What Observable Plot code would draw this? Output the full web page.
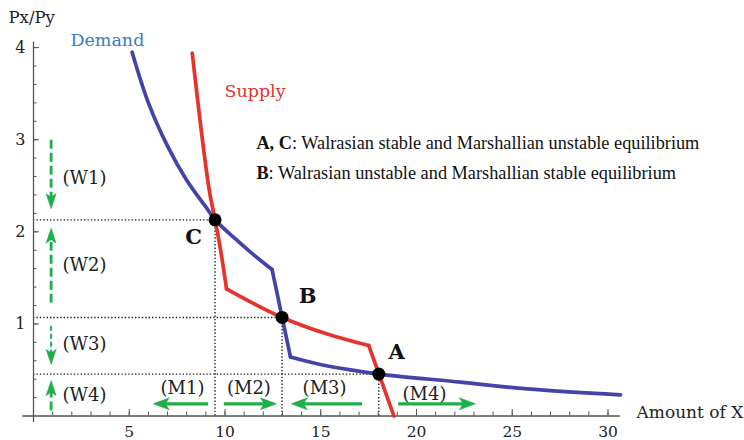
<!DOCTYPE html>
<html><head><meta charset="utf-8">
<script src="https://cdn.jsdelivr.net/npm/d3@7"></script>
<script src="https://cdn.jsdelivr.net/npm/@observablehq/plot@0.6"></script>
<style>body{margin:0;background:#fff}</style>
</head><body><div id="chart"></div>
<script>
// ---- data ----
const demandUpperX = [5.15, 6, 7, 8, 9, 9.48, 10.5, 11.5, 12.46];
const demandUpperY = [3.95, 3.40, 2.93, 2.56, 2.27, 2.13, 1.93, 1.75, 1.59];
const demandMidX = [12.46, 13.42];
const demandMidY = [1.59, 0.64];
const demandLowerX = [13.42, 14.81, 16.55, 18.03, 22.3, 25.78, 30.65];
const demandLowerY = [0.64, 0.567, 0.50, 0.455, 0.367, 0.295, 0.23];

const supplyUpperX = [8.29, 8.72, 9.18, 9.48, 9.77, 10.08];
const supplyUpperY = [3.94, 3.17, 2.45, 2.13, 1.80, 1.38];
const supplyMidX = [10.08, 11.5, 12.98, 15.34, 17.51];
const supplyMidY = [1.38, 1.22, 1.07, 0.89, 0.765];
const supplyLowerX = [17.51, 18.82];
const supplyLowerY = [0.765, 0];

const eqNames = ["C", "B", "A"];
const eqX = [9.48, 12.98, 18.03];
const eqY = [2.13, 1.07, 0.455];
const eqLabelX = [8.36, 14.31, 18.96];
const eqLabelY = [1.94, 1.30, 0.69];

const xTickValues = [5, 10, 15, 20, 25, 30];
const yTickValues = [1, 2, 3, 4];

const wLabels = ["(W1)", "(W2)", "(W3)", "(W4)"];
const wLabelY = [2.58, 1.634, 0.776, 0.222];
const wArrowFrom = [3.0, 1.23, 0.98, 0.06];
const wArrowTo = [2.25, 2.04, 0.56, 0.385];
const wArrowX = 0.92;

const mLabels = ["(M1)", "(M2)", "(M3)", "(M4)"];
const mLabelX = [7.78, 11.25, 15.2, 20.42];
const mLabelY = [0.30, 0.30, 0.30, 0.233];
const mArrowFrom = [9.12, 9.94, 17.16, 19.04];
const mArrowTo = [6.25, 12.69, 13.46, 23.08];
const mArrowY = 0.132;

const legendLines = ["A, C: Walrasian stable and Marshallian unstable equilibrium",
                     "B: Walrasian unstable and Marshallian stable equilibrium"];
const legendY = [2.959, 2.633];

// ---- build tables ----
const seg = (xs, ys, z) => xs.map((x, i) => ({x, y: ys[i], z}));
const demand = [...seg(demandUpperX, demandUpperY, "u"), ...seg(demandMidX, demandMidY, "m"), ...seg(demandLowerX, demandLowerY, "l")];
const supply = [...seg(supplyUpperX, supplyUpperY, "u"), ...seg(supplyMidX, supplyMidY, "m"), ...seg(supplyLowerX, supplyLowerY, "l")];
const eq = eqNames.map((n, i) => ({n, x: eqX[i], y: eqY[i], lx: eqLabelX[i], ly: eqLabelY[i]}));

const xMinor = d3.range(1, 31);
const yMinor = d3.range(1, 21).map(d => d / 5);

const GREEN = "#1fae4a";
const pxX = 19.15, pxY = 92.1;

const wArrows = wArrowFrom.map((f, i) => {
  const t = wArrowTo[i], dir = Math.sign(t - f);
  return {i, y1: f, y2: t - dir * 0.1, tip: t, rot: dir < 0 ? 180 : 0};
});
const mArrows = mArrowFrom.map((f, i) => {
  const t = mArrowTo[i], dir = Math.sign(t - f);
  return {i, x1: f, x2: t - dir * 0.6, tip: t, rot: dir < 0 ? -90 : 90};
});

const notched = {
  draw(ctx, l, r) {
    ctx.moveTo(-r, 0);
    ctx.lineTo(0, -l);
    ctx.lineTo(r, 0);
    ctx.lineTo(0, -l * 0.22);
    ctx.closePath();
  }
};

const plot = Plot.plot({
  width: 744, height: 440,
  marginLeft: 0, marginRight: 0, marginTop: 0, marginBottom: 0,
  x: {domain: [-33 / pxX, (744 - 33) / pxX], range: [0, 744], axis: null},
  y: {domain: [-24.5 / pxY, 415.5 / pxY], range: [440, 0], axis: null},
  style: {fontFamily: "DejaVu Serif", background: "white", color: "#222"},
  marks: [
    // dotted guides
    Plot.ruleY(eq, {y: "y", x1: 0, x2: "x", stroke: "#222", strokeWidth: 1.4, strokeDasharray: "1.4,2"}),
    Plot.ruleX(eq, {x: "x", y1: 0, y2: "y", stroke: "#222", strokeWidth: 1.4, strokeDasharray: "1.4,2"}),
    // axes
    Plot.ruleY([0], {x1: -0.57, x2: 30.65, stroke: "#555", strokeWidth: 1.3}),
    Plot.ruleX([0], {y1: -0.07, y2: 4.06, stroke: "#555", strokeWidth: 1.3}),
    Plot.ruleX(xMinor, {x: d => d, y1: 0, y2: 4 / pxY, stroke: "#555", strokeWidth: 1}),
    Plot.ruleX(xTickValues, {x: d => d, y1: 0, y2: 6.5 / pxY, stroke: "#555", strokeWidth: 1}),
    Plot.ruleY(yMinor, {y: d => d, x1: 0, x2: 3.5 / pxX, stroke: "#555", strokeWidth: 1}),
    Plot.ruleY(yTickValues, {y: d => d, x1: 0, x2: 6 / pxX, stroke: "#555", strokeWidth: 1}),
    Plot.text(xTickValues, {x: d => d, y: -16.5 / pxY, text: d => String(d), fontSize: 15.5, fill: "#222"}),
    Plot.text(yTickValues, {x: -8 / pxX, y: d => d, text: d => String(d), fontSize: 16, textAnchor: "end", fill: "#222"}),
    Plot.text(["Px/Py"], {x: -25 / pxX, y: 4.327, text: d => d, fontSize: 16.5, textAnchor: "start", fill: "#222"}),
    Plot.text(["Amount of X"], {x: 31.49, y: 0.038, text: d => d, fontSize: 17, textAnchor: "start", fill: "#222"}),
    // curves
    Plot.line(demand, {x: "x", y: "y", z: "z", stroke: "#4343a8", strokeWidth: 3.7, curve: "catmull-rom"}),
    Plot.line(supply, {x: "x", y: "y", z: "z", stroke: "#e8322c", strokeWidth: 3.7, curve: "catmull-rom"}),
    Plot.dot(eq, {x: "x", y: "y", r: 6.5, fill: "black", stroke: null}),
    Plot.text(eq, {x: "lx", y: "ly", text: "n", fontSize: 21, fontWeight: "bold", fill: "#111"}),
    Plot.text(["Demand"], {x: 1.93, y: 4.077, text: d => d, fontSize: 17.5, textAnchor: "start", fill: "#3a7cc0"}),
    Plot.text(["Supply"], {x: 9.97, y: 3.523, text: d => d, fontSize: 17.5, textAnchor: "start", fill: "#e8322c"}),
    // legend
    Plot.text(legendLines, {x: 11.64, y: (d, i) => legendY[i], text: d => d, fontSize: 18.3, textAnchor: "start", fontFamily: "Liberation Serif", fill: "#111"}),
    // W arrows
    Plot.link(wArrows.filter(d => d.i !== 2), {x1: wArrowX, x2: wArrowX, y1: "y1", y2: "y2", stroke: GREEN, strokeWidth: 2.8, strokeDasharray: "9,4"}),
    Plot.link(wArrows.filter(d => d.i === 2), {x1: wArrowX, x2: wArrowX, y1: "y1", y2: "y2", stroke: GREEN, strokeWidth: 2, strokeDasharray: "5,3"}),
    Plot.vector(wArrows, {x: wArrowX, y: "tip", rotate: "rot", length: 15, r: 5, anchor: "end", shape: notched, fill: GREEN, stroke: GREEN, strokeWidth: 0.5}),
    Plot.text(wLabels, {x: 1.51, y: (d, i) => wLabelY[i], text: d => d, fontSize: 18, textAnchor: "start", fill: "#222"}),
    // M arrows
    Plot.link(mArrows, {x1: "x1", x2: "x2", y1: mArrowY, y2: mArrowY, stroke: GREEN, strokeWidth: 3.3}),
    Plot.vector(mArrows, {x: "tip", y: mArrowY, rotate: "rot", length: 16, r: 6, anchor: "end", shape: notched, fill: GREEN, stroke: GREEN, strokeWidth: 0.5}),
    Plot.text(mLabels, {x: (d, i) => mLabelX[i], y: (d, i) => mLabelY[i], text: d => d, fontSize: 18, fill: "#222"})
  ]
});

// bold the point names in the legend lines
plot.querySelectorAll("text").forEach(t => {
  const s = t.textContent;
  const m = s.match(/^(A, C|B)(: Walrasian.*)$/);
  if (m) {
    t.textContent = "";
    const b = document.createElementNS("http://www.w3.org/2000/svg", "tspan");
    b.setAttribute("font-weight", "bold");
    b.textContent = m[1];
    const r = document.createElementNS("http://www.w3.org/2000/svg", "tspan");
    r.textContent = m[2];
    t.appendChild(b); t.appendChild(r);
  }
});
document.getElementById("chart").appendChild(plot);
</script>
</body></html>
